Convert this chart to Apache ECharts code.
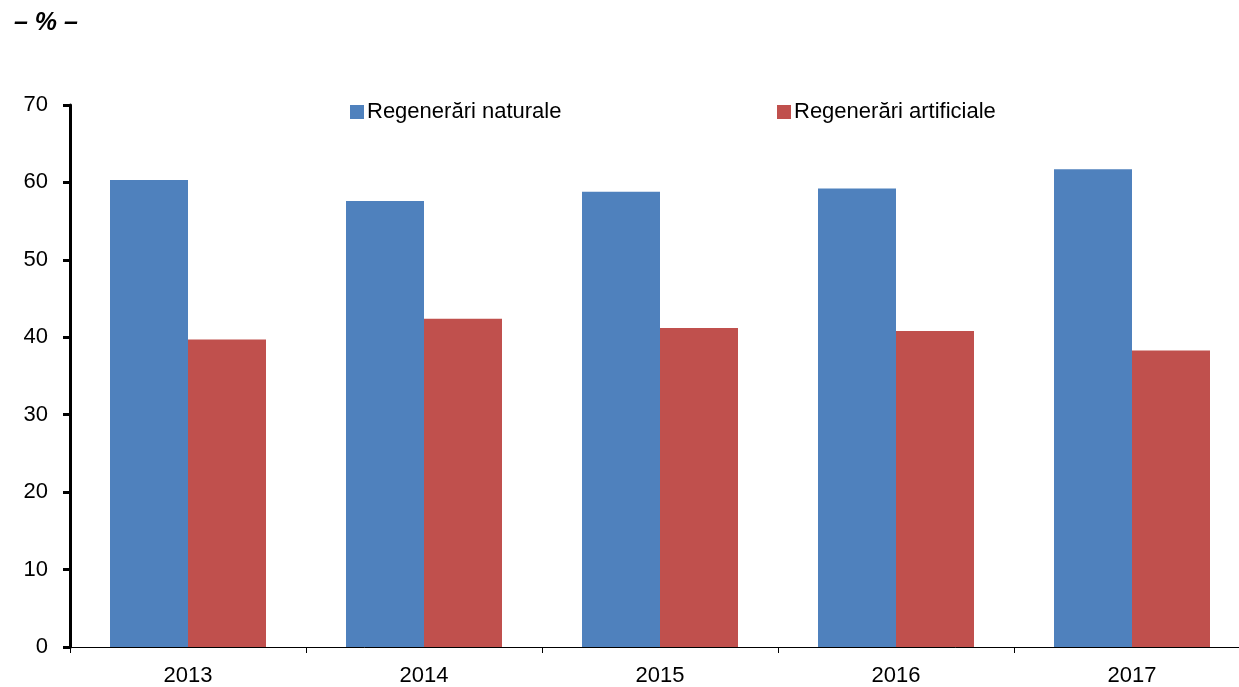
<!DOCTYPE html>
<html>
<head>
<meta charset="utf-8">
<script src="https://cdn.jsdelivr.net/npm/echarts@6/dist/echarts.min.js"></script>
<style>
  html, body { margin: 0; padding: 0; background: #fff; overflow: hidden; }
  #chart { width: 1260px; height: 687px; }
</style>
</head>
<body>
<div id="chart"></div>
<script>
var years = ["2013", "2014", "2015", "2016", "2017"];
var naturale = [60.3, 57.6, 58.8, 59.2, 61.7];
var artificiale = [39.7, 42.4, 41.2, 40.8, 38.3];
var yTicks = [0, 10, 20, 30, 40, 50, 60, 70];

var chart = echarts.init(document.getElementById("chart"));

var font = "Liberation Sans, Arial, sans-serif";

var option = {
  animation: false,
  textStyle: { fontFamily: font },
  title: {
    text: "– % –",
    left: 9,
    top: 6,
    textStyle: { fontSize: 25, fontWeight: "bold", fontStyle: "italic", color: "#000", fontFamily: font }
  },
  // two separate legends, as in the original layout
  legend: [
    {
      data: ["Regenerări naturale"],
      left: 345, top: 96,
      itemWidth: 14, itemHeight: 14,
      icon: "rect",
      textStyle: { fontSize: 22, color: "#000", padding: [0, 0, 0, -2] }
    },
    {
      data: ["Regenerări artificiale"],
      left: 772, top: 96,
      itemWidth: 14, itemHeight: 14,
      icon: "rect",
      textStyle: { fontSize: 22, color: "#000", padding: [0, 0, 0, -2] }
    }
  ],
  grid: { left: 70, top: 105, width: 1180, height: 545 },
  xAxis: {
    type: "category",
    data: years,
    axisLine: { lineStyle: { color: "#000", width: 1 } },
    axisTick: { show: true, length: 6, lineStyle: { color: "#000" } },
    axisLabel: { fontSize: 22, color: "#000", margin: 18 }
  },
  yAxis: {
    type: "value",
    min: yTicks[0],
    max: yTicks[yTicks.length - 1],
    interval: 10,
    splitLine: { show: false },
    axisLine: { show: true, lineStyle: { color: "#000", width: 3 } },
    axisTick: { show: true, length: 7, lineStyle: { color: "#000", width: 3 } },
    axisLabel: { fontSize: 22, color: "#000", margin: 22 }
  },
  series: [
    {
      name: "Regenerări naturale",
      type: "bar",
      data: naturale,
      barWidth: 78,
      barGap: "0%",
      itemStyle: { color: "#4F81BD" }
    },
    {
      name: "Regenerări artificiale",
      type: "bar",
      data: artificiale,
      barWidth: 78,
      itemStyle: { color: "#C0504D" }
    }
  ]
};

chart.setOption(option);
</script>
</body>
</html>
